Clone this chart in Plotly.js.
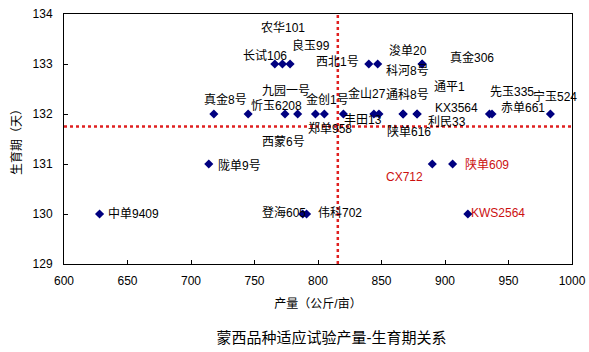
<!DOCTYPE html>
<html>
<head>
<meta charset="utf-8">
<script src="https://cdn.plot.ly/plotly-3.0.1.min.js"></script>
<style>html,body{margin:0;padding:0;background:#fff;}#chart{width:589px;height:352px;}</style>
</head>
<body>
<div id="chart"></div>
<script>
// Varieties, yield (kg/mu) and growth period (days)
const varieties = ["农华101","良玉99","长试106","西北1号","浚单20","真金306","科河8号",
  "九园一号","真金8号","忻玉6208","金创1号","金山27","丰田13","郑单958","西蒙6号",
  "通科8号","通平1","先玉335","宁玉524","KX3564","赤单661","利民33","陕单616",
  "陇单9号","中单9409","CX712","陕单609","KWS2564","登海605","伟科702"];
const yieldKg = [772,778,766,840,847,882,882,
  774,718,745,798,820,844,805,784,
  867,878,935,983,867,937,878,848,
  714,628,890,906,918,788,791];
const growthDays = [133,133,133,133,133,133,133,
  132,132,132,132,132,132,132,132,
  132,132,132,132,132,132,132,132,
  131,130,131,131,130,130,130];
const highlighted = ["CX712","陕单609","KWS2564"];
// mean reference lines
const meanYield = [815.6];
const meanDays = [131.75];
// label anchor positions (data coords)
const labelX = [772.8,794.1,757.9,815.4,870.5,920.9,870.5,
  774.5,727.2,767.3,807.5,838.5,835.8,809.8,772.8,
  870.5,903.5,953.1,987.0,909.1,961.8,901.2,872.0,
  738.2,654.7,868.1,933.4,942.1,773.6,817.7];
const labelY = [133.72,133.38,133.18,133.05,133.28,133.14,132.86,
  132.46,132.30,132.16,132.29,132.42,131.88,131.72,131.44,
  132.38,132.54,132.44,132.36,132.12,132.12,131.84,131.66,
  130.98,130.02,130.74,131.0,130.02,130.04,130.02];
const xTicks = [600,650,700,750,800,850,900,950,1000];
const yTicks = [129,130,131,132,133,134];

const FONT = "Liberation Sans, Arial, 'Noto Sans CJK SC', sans-serif";

const trace = {
  type: "scatter", mode: "markers",
  x: yieldKg, y: growthDays, text: varieties,
  marker: {symbol: "diamond", size: 7, color: "#000080"},
  hoverinfo: "text+x+y", showlegend: false
};

const annotations = varieties.map((n, i) => ({
  x: labelX[i], y: labelY[i], xref: "x", yref: "y",
  text: n, showarrow: false, xanchor: "center", yanchor: "middle",
  font: {family: FONT, size: 12, color: highlighted.includes(n) ? "#cc1010" : "#000000"}
}));

const shapes = [
  {type: "line", xref: "x", yref: "paper", x0: meanYield[0], x1: meanYield[0], y0: 0, y1: 1,
   line: {color: "#e02020", width: 2.5, dash: "dot"}},
  {type: "line", xref: "paper", yref: "y", x0: 0, x1: 1, y0: meanDays[0], y1: meanDays[0],
   line: {color: "#e02020", width: 2.5, dash: "dot"}}
];

const layout = {
  width: 589, height: 352,
  margin: {l: 64, r: 17, t: 14, b: 88},
  paper_bgcolor: "#ffffff", plot_bgcolor: "#ffffff",
  font: {family: FONT, size: 12, color: "#000"},
  title: {text: "蒙西品种适应试验产量-生育期关系", font: {family: FONT, size: 15, color: "#000"},
          x: 0.563, xanchor: "center", y: 0.04, yanchor: "middle", xref: "container", yref: "container"},
  xaxis: {
    range: [600, 1000], tickmode: "array", tickvals: xTicks, ticktext: xTicks.map(String),
    ticks: "inside", ticklen: 4, tickcolor: "#000", showgrid: false, zeroline: false,
    showline: true, linecolor: "#000", linewidth: 1, mirror: true,
    tickfont: {family: FONT, size: 12, color: "#000"}, ticklabelstandoff: 6,
    title: {text: "产量（公斤/亩）", font: {family: FONT, size: 12, color: "#000"}, standoff: 12}
  },
  yaxis: {
    range: [129, 134], tickmode: "array", tickvals: yTicks, ticktext: yTicks.map(String),
    ticks: "inside", ticklen: 4, tickcolor: "#000", showgrid: false, zeroline: false,
    showline: true, linecolor: "#000", linewidth: 1, mirror: true,
    tickfont: {family: FONT, size: 12, color: "#000"}, ticklabelstandoff: 8,
    title: {text: "生育期（天）", font: {family: FONT, size: 12, color: "#000"}, standoff: 8}
  },
  shapes: shapes,
  annotations: annotations
};

Plotly.newPlot("chart", [trace], layout, {displayModeBar: false, staticPlot: true});
</script>
</body>
</html>
